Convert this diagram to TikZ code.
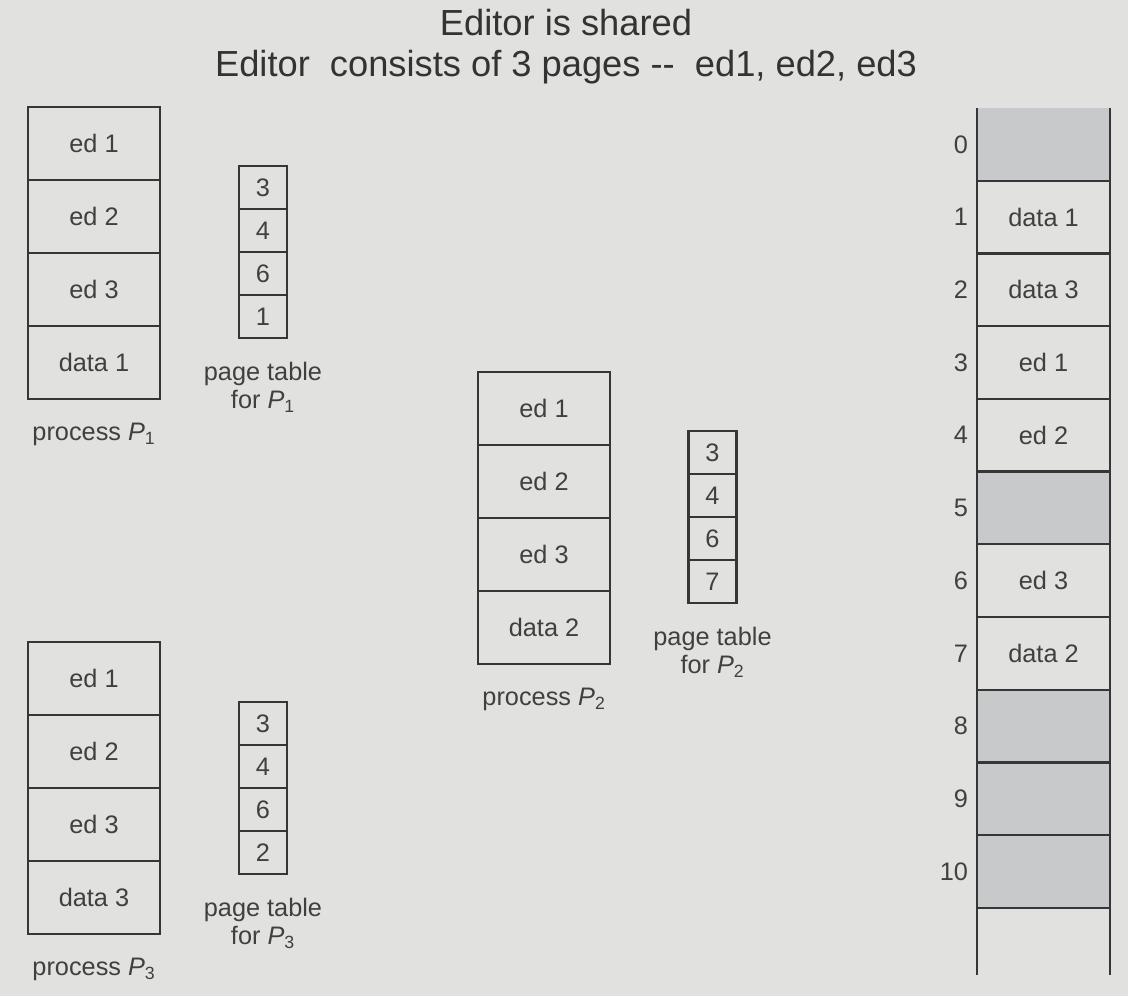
\documentclass[tikz,border=0pt]{standalone}
\usepackage{fontspec}
\setmainfont{Liberation Sans}
\usepackage{xcolor}
\usetikzlibrary{positioning}

\definecolor{bg}{HTML}{E1E1DF}
\definecolor{ink}{HTML}{363636}
\definecolor{txt}{HTML}{404040}
\definecolor{freeg}{HTML}{C8C9CB}

\newcommand{\proc}[1]{\textit{P}\textsubscript{#1}}

\begin{document}
\begin{tikzpicture}[x=0.025cm,y=-0.025cm,
  page/.style={draw=ink,line width=1.6pt,text=txt,font=\fontsize{18}{20}\selectfont,minimum width=3.3cm,minimum height=1.825cm,outer sep=0pt,inner sep=0pt},
  entry/.style={draw=ink,line width=1.6pt,text=txt,font=\fontsize{18}{20}\selectfont,minimum width=1.2cm,minimum height=1.075cm,outer sep=0pt,inner sep=0pt},
  slot/.style={text=txt,font=\fontsize{18}{20}\selectfont,minimum width=3.325cm,minimum height=1.8175cm,outer sep=0pt,inner sep=0pt},
  freeslot/.style={slot,fill=freeg},
  lbl/.style={text=txt,font=\fontsize{18}{20}\selectfont,align=center,inner sep=0pt},
  num/.style={text=txt,font=\fontsize{18}{20}\selectfont,inner sep=0pt},
  mem/.style={draw=ink,line width=1.6pt},
  head/.style={text=txt!80!black,font=\fontsize{25.8}{30}\selectfont,anchor=base,inner sep=0pt}
]
\fill[bg] (0,0) rectangle (1128,996);

% title
\node[head] (title) at (566,35) {Editor is shared};
\node[head] (subtitle) at (566,76) {Editor\ \ consists of 3 pages -{}-\ \ ed1, ed2, ed3};

% process P1 and its page table
\node[page] (p1a) at (94,143.5) {ed 1};
\node[page,below=0pt of p1a] (p1b) {ed 2};
\node[page,below=0pt of p1b] (p1c) {ed 3};
\node[page,below=0pt of p1c] (p1d) {data 1};
\node[lbl,below=0.6cm of p1d] (p1lbl) {process \proc{1}};
\node[entry] (t1a) at (263,187.5) {3};
\node[entry,below=0pt of t1a] (t1b) {4};
\node[entry,below=0pt of t1b] (t1c) {6};
\node[entry,below=0pt of t1c] (t1d) {1};
\node[lbl,below=0.6cm of t1d] (t1lbl) {page table\\for \proc{1}};

% process P2 and its page table
\node[page] (p2a) at (544,408.5) {ed 1};
\node[page,below=0pt of p2a] (p2b) {ed 2};
\node[page,below=0pt of p2b] (p2c) {ed 3};
\node[page,below=0pt of p2c] (p2d) {data 2};
\node[lbl,below=0.6cm of p2d] (p2lbl) {process \proc{2}};
\node[entry] (t2a) at (712.5,452.5) {3};
\node[entry,below=0pt of t2a] (t2b) {4};
\node[entry,below=0pt of t2b] (t2c) {6};
\node[entry,below=0pt of t2c] (t2d) {7};
\node[lbl,below=0.6cm of t2d] (t2lbl) {page table\\for \proc{2}};

% process P3 and its page table
\node[page] (p3a) at (94,678.5) {ed 1};
\node[page,below=0pt of p3a] (p3b) {ed 2};
\node[page,below=0pt of p3b] (p3c) {ed 3};
\node[page,below=0pt of p3c] (p3d) {data 3};
\node[lbl,below=0.6cm of p3d] (p3lbl) {process \proc{3}};
\node[entry] (t3a) at (263,723.5) {3};
\node[entry,below=0pt of t3a] (t3b) {4};
\node[entry,below=0pt of t3b] (t3c) {6};
\node[entry,below=0pt of t3c] (t3d) {2};
\node[lbl,below=0.6cm of t3d] (t3lbl) {page table\\for \proc{3}};

% physical memory
\node[freeslot] (f0) at (1043.5,144.35) {};
\node[slot,below=0pt of f0] (f1) {data 1};
\node[slot,below=0pt of f1] (f2) {data 3};
\node[slot,below=0pt of f2] (f3) {ed 1};
\node[slot,below=0pt of f3] (f4) {ed 2};
\node[freeslot,below=0pt of f4] (f5) {};
\node[slot,below=0pt of f5] (f6) {ed 3};
\node[slot,below=0pt of f6] (f7) {data 2};
\node[freeslot,below=0pt of f7] (f8) {};
\node[freeslot,below=0pt of f8] (f9) {};
\node[freeslot,below=0pt of f9] (f10) {};
\coordinate (mbot) at (1043.5,975);
\foreach \i in {0,...,10} {
  \draw[mem] (f\i.south west) -- (f\i.south east);
  \node[num,left=0.22cm of f\i] (n\i) {\i};
}
\draw[mem] (f0.north west) -- (f0.north west |- mbot);
\draw[mem] (f0.north east) -- (f0.north east |- mbot);
\end{tikzpicture}
\end{document}
